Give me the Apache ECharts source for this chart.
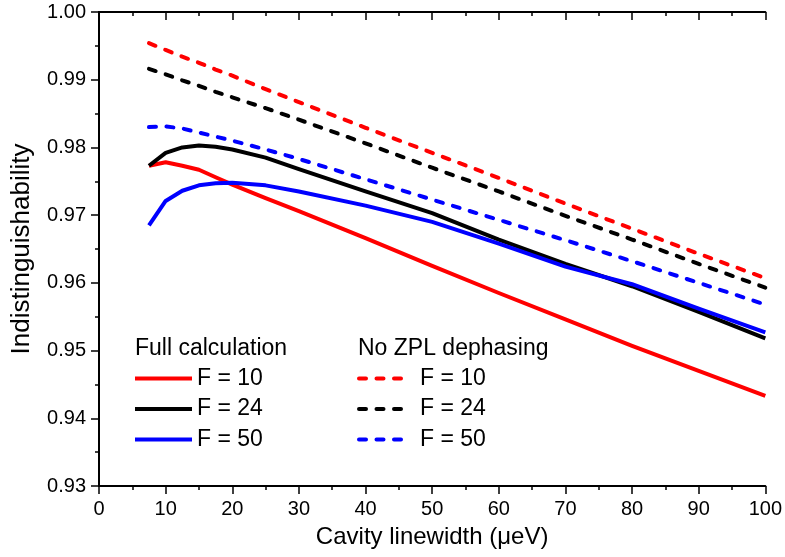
<!DOCTYPE html>
<html>
<head>
<meta charset="utf-8">
<script src="https://cdn.jsdelivr.net/npm/echarts@6/dist/echarts.min.js"></script>
<style>
html,body{margin:0;padding:0;background:#fff;}
#chart{width:785px;height:557px;}
</style>
</head>
<body>
<div id="chart"></div>
<script>
// Cavity linewidth (µeV)
var xs = [7.5, 10, 12.5, 15, 17.5, 20, 25, 30, 40, 50, 60, 70, 80, 90, 100];
// Full calculation
var fullF10 = [0.9773, 0.9778, 0.9773, 0.9767, 0.9756, 0.9745, 0.9725, 0.9706, 0.9666, 0.9625, 0.9585, 0.9546, 0.9507, 0.9470, 0.9433];
var fullF24 = [0.9773, 0.9792, 0.9800, 0.9803, 0.9801, 0.9797, 0.9785, 0.9768, 0.9735, 0.9703, 0.9664, 0.9628, 0.9595, 0.9557, 0.9518];
var fullF50 = [0.9685, 0.9721, 0.9736, 0.9744, 0.9747, 0.9748, 0.9744, 0.9735, 0.9714, 0.9690, 0.9658, 0.9624, 0.9598, 0.9562, 0.9527];
// No ZPL dephasing
var noZplF10 = [0.9954, 0.9944, 0.9934, 0.9925, 0.9915, 0.9906, 0.9886, 0.9867, 0.9829, 0.9792, 0.9755, 0.9717, 0.9680, 0.9643, 0.9607];
var noZplF24 = [0.9916, 0.9908, 0.9899, 0.9891, 0.9882, 0.9874, 0.9858, 0.9841, 0.9806, 0.9770, 0.9735, 0.9699, 0.9664, 0.9628, 0.9593];
var noZplF50 = [0.9830, 0.9831, 0.9828, 0.9822, 0.9816, 0.9810, 0.9797, 0.9783, 0.9753, 0.9723, 0.9693, 0.9663, 0.9632, 0.9600, 0.9568];

var xTicks = {min: 0, max: 100, interval: 10};
var yTicks = {min: 0.93, max: 1.00, interval: 0.01};

var FONT = '"Liberation Sans", Arial, sans-serif';

function pairs(vals) {
  return xs.map(function (x, i) { return [x, vals[i]]; });
}

function mkSeries(name, vals, color, dashed) {
  return {
    name: name,
    type: 'line',
    data: pairs(vals),
    showSymbol: false,
    symbol: 'circle',
    symbolSize: 0,
    smooth: false,
    xAxisIndex: 0,
    yAxisIndex: 0,
    lineStyle: {
      color: color,
      width: 4,
      type: dashed ? [7, 10.5] : 'solid',
      cap: dashed ? 'round' : 'butt',
      join: 'round'
    },
    itemStyle: {color: color},
    emphasis: {disabled: true},
    animation: false
  };
}

var axisLineStyle = {color: '#000', width: 2};
var tickStyle = {color: '#000', width: 1.5};

var legendCommon = {
  orient: 'vertical',
  top: 367,
  padding: 0,
  itemHeight: 14,
  itemGap: 7.5,
  selectedMode: false,
  itemStyle: {opacity: 0, borderWidth: 0},
  lineStyle: {width: 4},
  textStyle: {fontFamily: FONT, fontSize: 23, color: '#000', lineHeight: 22}
};

var chart = echarts.init(document.getElementById('chart'), null, {renderer: 'canvas'});
chart.setOption({
  backgroundColor: '#fff',
  animation: false,
  grid: {left: 99, right: 19, top: 12, bottom: 71, containLabel: false},
  xAxis: [{
    type: 'value',
    position: 'bottom',
    min: xTicks.min, max: xTicks.max, interval: xTicks.interval,
    name: 'Cavity linewidth (\u03BCeV)',
    nameLocation: 'middle',
    nameGap: 39,
    nameTextStyle: {fontFamily: FONT, fontSize: 24, color: '#000'},
    axisLine: {show: true, lineStyle: axisLineStyle},
    axisTick: {show: true, inside: false, length: 8, lineStyle: tickStyle},
    minorTick: {show: true, splitNumber: 2, length: 4, lineStyle: tickStyle},
    splitLine: {show: false},
    axisLabel: {fontFamily: FONT, fontSize: 20, color: '#000', margin: 13}
  }, {
    type: 'value',
    position: 'top',
    min: xTicks.min, max: xTicks.max, interval: xTicks.interval,
    axisLine: {show: true, lineStyle: axisLineStyle},
    axisTick: {show: true, inside: true, length: 8, lineStyle: tickStyle},
    minorTick: {show: true, splitNumber: 2, length: 4, lineStyle: tickStyle},
    splitLine: {show: false},
    axisLabel: {show: false}
  }],
  yAxis: [{
    type: 'value',
    position: 'left',
    min: yTicks.min, max: yTicks.max, interval: yTicks.interval,
    name: 'Indistinguishability',
    nameLocation: 'middle',
    nameGap: 64,
    nameTextStyle: {fontFamily: FONT, fontSize: 26, color: '#000'},
    axisLine: {show: true, lineStyle: axisLineStyle},
    axisTick: {show: true, inside: false, length: 8, lineStyle: tickStyle},
    minorTick: {show: true, splitNumber: 2, length: 4, lineStyle: tickStyle},
    splitLine: {show: false},
    axisLabel: {
      fontFamily: FONT, fontSize: 20, color: '#000', margin: 13,
      formatter: function (v) { return v.toFixed(2); }
    }
  }, {
    type: 'value',
    position: 'right',
    min: yTicks.min, max: yTicks.max, interval: yTicks.interval,
    axisLine: {show: true, lineStyle: axisLineStyle},
    axisTick: {show: true, inside: true, length: 8, lineStyle: tickStyle},
    minorTick: {show: true, splitNumber: 2, length: 4, lineStyle: tickStyle},
    splitLine: {show: false},
    axisLabel: {show: false}
  }],
  legend: [
    Object.assign({}, legendCommon, {
      left: 133,
      itemWidth: 57,
      data: ['F = 10 ', 'F = 24 ', 'F = 50 ']
    }),
    Object.assign({}, legendCommon, {
      left: 357,
      itemWidth: 48,
      data: ['F = 10', 'F = 24', 'F = 50'],
      textStyle: {fontFamily: FONT, fontSize: 23, color: '#000', lineHeight: 22, padding: [0, 0, 0, 8]}
    })
  ],
  graphic: [{
    type: 'text',
    left: 135,
    top: 337,
    style: {text: 'Full calculation', font: '23px ' + FONT, fill: '#000'}
  }, {
    type: 'text',
    left: 358,
    top: 337,
    style: {text: 'No ZPL dephasing', font: '23px ' + FONT, fill: '#000'}
  }],
  series: [
    mkSeries('F = 10 ', fullF10, '#ff0000', false),
    mkSeries('F = 24 ', fullF24, '#000000', false),
    mkSeries('F = 50 ', fullF50, '#0000ff', false),
    mkSeries('F = 10', noZplF10, '#ff0000', true),
    mkSeries('F = 24', noZplF24, '#000000', true),
    mkSeries('F = 50', noZplF50, '#0000ff', true)
  ]
});
</script>
</body>
</html>
